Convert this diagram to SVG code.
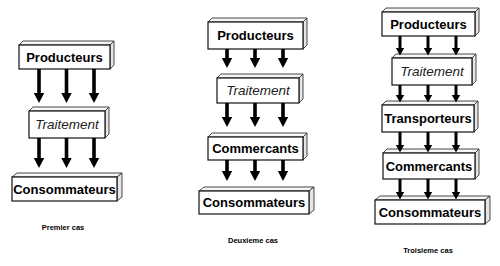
<svg xmlns="http://www.w3.org/2000/svg" width="500" height="266" viewBox="0 0 500 266">
<style>
.front{fill:#fff;stroke:#111;stroke-width:1.2}
.top{fill:#f6f6f6;stroke:#333;stroke-width:0.9}
.side{fill:#e6e6e6;stroke:#333;stroke-width:0.9}
.lb{font-family:"Liberation Sans",Arial,sans-serif;font-weight:bold;font-size:13px;fill:#000;text-anchor:middle}
.li{font-family:"Liberation Sans",Arial,sans-serif;font-style:italic;font-size:13.5px;fill:#222;text-anchor:middle}
.cap{font-family:"Liberation Sans",Arial,sans-serif;font-weight:bold;font-size:7.5px;fill:#000;text-anchor:middle}
.ar{stroke:#000;stroke-width:3.6;fill:none;marker-end:url(#ah)}
.ars{stroke:#000;stroke-width:3;fill:none;marker-end:url(#ahs)}
</style>
<defs>
<marker id="ah" markerUnits="userSpaceOnUse" markerWidth="12" markerHeight="12" refX="0" refY="0" orient="auto" viewBox="-1 -6 12 12" overflow="visible">
<path d="M0,-5.2 L10,0 L0,5.2 Z" fill="#000"/>
</marker>
<marker id="ahs" markerUnits="userSpaceOnUse" markerWidth="10" markerHeight="10" refX="0" refY="0" orient="auto" viewBox="-1 -5 10 10" overflow="visible">
<path d="M0,-4.2 L7.5,0 L0,4.2 Z" fill="#000"/>
</marker>
</defs>

<!-- Case 1 -->
<g id="c1-producteurs">
<path class="top" d="M19,45 L23,41 L114,41 L110,45 Z"/>
<path class="side" d="M110,45 L114,41 L114,65 L110,69 Z"/>
<rect class="front" x="19" y="45" width="91" height="24"/>
<text class="lb" x="64.5" y="62">Producteurs</text>
</g>
<g id="c1-traitement">
<path class="top" d="M29,111 L33,107 L109,107 L105,111 Z"/>
<path class="side" d="M105,111 L109,107 L109,134 L105,138 Z"/>
<rect class="front" x="29" y="111" width="76" height="27"/>
<text class="li" x="67" y="129">Traitement</text>
</g>
<g id="c1-consommateurs">
<path class="top" d="M12,177 L17,173 L122,173 L117,177 Z"/>
<path class="side" d="M117,177 L122,173 L122,197 L117,201 Z"/>
<rect class="front" x="12" y="177" width="105" height="24"/>
<text class="lb" x="64.5" y="194">Consommateurs</text>
</g>
<text class="cap" x="63" y="230">Premier cas</text>

<!-- Case 2 -->
<g id="c2-producteurs">
<path class="top" d="M208,22 L212,18 L307,18 L303,22 Z"/>
<path class="side" d="M303,22 L307,18 L307,45 L303,49 Z"/>
<rect class="front" x="208" y="22" width="95" height="27"/>
<text class="lb" x="255.5" y="40">Producteurs</text>
</g>
<g id="c2-traitement">
<path class="top" d="M217,78 L221,74 L303,74 L299,78 Z"/>
<path class="side" d="M299,78 L303,74 L303,99 L299,103 Z"/>
<rect class="front" x="217" y="78" width="82" height="25"/>
<text class="li" x="258" y="95">Traitement</text>
</g>
<g id="c2-commercants">
<path class="top" d="M208,137 L212,133 L307,133 L303,137 Z"/>
<path class="side" d="M303,137 L307,133 L307,156 L303,160 Z"/>
<rect class="front" x="208" y="137" width="95" height="23"/>
<text class="lb" x="255.5" y="153">Commercants</text>
</g>
<g id="c2-consommateurs">
<path class="top" d="M199,191 L204,187 L314,187 L309,191 Z"/>
<path class="side" d="M309,191 L314,187 L314,210 L309,214 Z"/>
<rect class="front" x="199" y="191" width="110" height="23"/>
<text class="lb" x="254" y="207">Consommateurs</text>
</g>
<text class="cap" x="253" y="243">Deuxieme cas</text>

<!-- Case 3 -->
<g id="c3-producteurs">
<path class="top" d="M382,12 L386,8 L479,8 L475,12 Z"/>
<path class="side" d="M475,12 L479,8 L479,32 L475,36 Z"/>
<rect class="front" x="382" y="12" width="93" height="24"/>
<text class="lb" x="428.5" y="29">Producteurs</text>
</g>
<g id="c3-traitement">
<path class="top" d="M392,58 L396,54 L476,54 L472,58 Z"/>
<path class="side" d="M472,58 L476,54 L476,81 L472,85 Z"/>
<rect class="front" x="392" y="58" width="80" height="27"/>
<text class="li" x="432" y="76">Traitement</text>
</g>
<g id="c3-transporteurs">
<path class="top" d="M382,105 L386,101 L478,101 L474,105 Z"/>
<path class="side" d="M474,105 L478,101 L478,128 L474,132 Z"/>
<rect class="front" x="382" y="105" width="92" height="27"/>
<text class="lb" x="428" y="123">Transporteurs</text>
</g>
<g id="c3-commercants">
<path class="top" d="M383,153 L387,149 L479,149 L475,153 Z"/>
<path class="side" d="M475,153 L479,149 L479,175 L475,179 Z"/>
<rect class="front" x="383" y="153" width="92" height="26"/>
<text class="lb" x="429" y="171">Commercants</text>
</g>
<g id="c3-consommateurs">
<path class="top" d="M375,200 L380,196 L490,196 L485,200 Z"/>
<path class="side" d="M485,200 L490,196 L490,220 L485,224 Z"/>
<rect class="front" x="375" y="200" width="110" height="24"/>
<text class="lb" x="430" y="217">Consommateurs</text>
</g>
<text class="cap" x="428" y="253">Troisieme cas</text>

<g id="connectors">
<!-- case 1 -->
<line class="ar" x1="39" y1="69" x2="39" y2="93"/>
<line class="ar" x1="66.5" y1="69" x2="66.5" y2="93"/>
<line class="ar" x1="94" y1="69" x2="94" y2="93"/>
<line class="ar" x1="39" y1="138" x2="39" y2="158"/>
<line class="ar" x1="66.5" y1="138" x2="66.5" y2="158"/>
<line class="ar" x1="94" y1="138" x2="94" y2="158"/>
<!-- case 2 -->
<line class="ar" x1="227" y1="49" x2="227" y2="58"/>
<line class="ar" x1="255" y1="49" x2="255" y2="58"/>
<line class="ar" x1="283" y1="49" x2="283" y2="58"/>
<line class="ar" x1="227" y1="103" x2="227" y2="117"/>
<line class="ar" x1="255" y1="103" x2="255" y2="117"/>
<line class="ar" x1="283" y1="103" x2="283" y2="117"/>
<line class="ar" x1="227" y1="160" x2="227" y2="171"/>
<line class="ar" x1="255" y1="160" x2="255" y2="171"/>
<line class="ar" x1="283" y1="160" x2="283" y2="171"/>
<!-- case 3 -->
<line class="ars" x1="400" y1="36" x2="400" y2="48"/>
<line class="ars" x1="428" y1="36" x2="428" y2="48"/>
<line class="ars" x1="456" y1="36" x2="456" y2="48"/>
<line class="ars" x1="400" y1="85" x2="400" y2="95"/>
<line class="ars" x1="428" y1="85" x2="428" y2="95"/>
<line class="ars" x1="456" y1="85" x2="456" y2="95"/>
<line class="ars" x1="400" y1="132" x2="400" y2="145"/>
<line class="ars" x1="428" y1="132" x2="428" y2="145"/>
<line class="ars" x1="456" y1="132" x2="456" y2="145"/>
<line class="ars" x1="400" y1="179" x2="400" y2="192"/>
<line class="ars" x1="428" y1="179" x2="428" y2="192"/>
<line class="ars" x1="456" y1="179" x2="456" y2="192"/>
</g>
</svg>
